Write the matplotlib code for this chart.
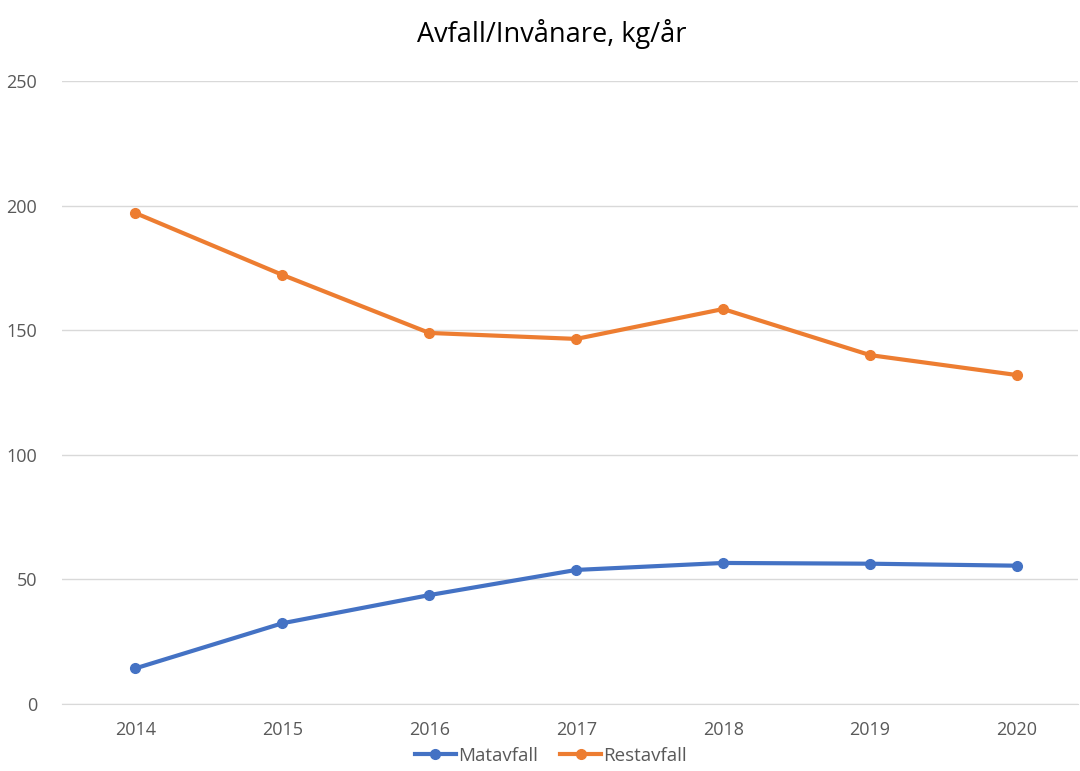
import matplotlib.pyplot as plt

years = ['2014', '2015', '2016', '2017', '2018', '2019', '2020']
matavfall = [14.3, 32.4, 43.7, 53.8, 56.6, 56.3, 55.5]
restavfall = [197.0, 172.2, 148.9, 146.5, 158.5, 140.0, 132.0]

plt.rcParams['font.family'] = ['Open Sans', 'DejaVu Sans']

fig = plt.figure(figsize=(10.8, 7.71), dpi=100)
ax = fig.add_axes([62/1080, 1 - 704/771, (1078-62)/1080, (704-81)/771])

x = range(len(years))
ax.plot(x, matavfall, color='#4472C4', lw=3, marker='o', ms=7, label='Matavfall')
ax.plot(x, restavfall, color='#ED7D31', lw=3, marker='o', ms=7, label='Restavfall')

ax.set_xlim(-0.5, 6.415)
ax.set_ylim(0, 250)
ax.set_yticks([0, 50, 100, 150, 200, 250])
ax.set_xticks(list(x))
ax.set_xticklabels(years)
ax.grid(axis='y', color='#D9D9D9', lw=1)
ax.set_axisbelow(True)
for s in ['top', 'right', 'left']:
    ax.spines[s].set_visible(False)
ax.spines['bottom'].set_color('#D9D9D9')
ax.tick_params(length=0, labelsize=13, colors='#595959')
ax.tick_params(axis='y', pad=18)
ax.tick_params(axis='x', pad=12)

fig.suptitle('Avfall/Invånare, kg/år', x=0.511, y=0.975, fontsize=19.5, color='black')
fig.legend(loc='lower center', bbox_to_anchor=(0.51, -0.014), ncol=2, frameon=False,
           fontsize=13.5, labelcolor='#595959', handlelength=2.2, columnspacing=1.2,
           handletextpad=0.1)

fig.savefig('out.png', dpi=100)
